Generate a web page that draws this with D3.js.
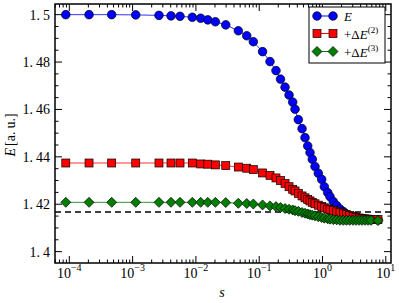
<!DOCTYPE html>
<html><head><meta charset="utf-8">
<script src="https://cdn.jsdelivr.net/npm/d3@7"></script>
<style>body{margin:0;background:#fff}svg{display:block}text{font-family:"Liberation Serif","DejaVu Serif",serif;fill:#000}</style>
</head><body><svg id="c" width="399" height="303"></svg>
<script>
const sValues = [8.8e-5, 2.05e-4, 4.67e-4, 1.12e-3, 2.61e-3, 4.04e-3, 5.61e-3, 8.77e-3, 0.0119, 0.0154, 0.0203, 0.0296, 0.0468, 0.0635, 0.0807, 0.113, 0.148, 0.184, 0.217, 0.256, 0.296, 0.338, 0.368, 0.415, 0.475, 0.529, 0.584, 0.635, 0.690, 0.761, 0.858, 0.971, 1.068, 1.208, 1.314, 1.481, 1.676, 1.890, 2.131, 2.394, 2.690, 3.032, 3.382, 3.772, 4.207, 4.692, 5.233, 5.837, 7.53];
const seriesE = [1.5000,1.5000,1.5000,1.4999,1.4997,1.4995,1.4993,1.4989,1.4985,1.4978,1.4970,1.4957,1.4932,1.4911,1.4886,1.4844,1.4802,1.4764,1.4728,1.4694,1.4661,1.4631,1.4601,1.4557,1.4519,1.4481,1.4446,1.4418,1.4390,1.4359,1.4331,1.4305,1.4274,1.4249,1.4232,1.4211,1.4194,1.4180,1.4169,1.4158,1.4150,1.4145,1.4141,1.4139,1.4137,1.4136,1.4136,1.4135,1.4134];
const seriesE2 = [1.4374,1.4374,1.4374,1.4374,1.4374,1.4374,1.4374,1.4374,1.4370,1.4369,1.4366,1.4363,1.4357,1.4352,1.4346,1.4332,1.4322,1.4311,1.4300,1.4288,1.4274,1.4263,1.4256,1.4246,1.4235,1.4227,1.4220,1.4214,1.4208,1.4202,1.4196,1.4190,1.4185,1.4180,1.4177,1.4173,1.4168,1.4165,1.4160,1.4156,1.4152,1.4149,1.4145,1.4142,1.4140,1.4138,1.4137,1.4136,1.4135];
const seriesE3 = [1.4208,1.4208,1.4208,1.4208,1.4208,1.4208,1.4208,1.4208,1.4208,1.4208,1.4208,1.4207,1.4204,1.4203,1.4201,1.4197,1.4193,1.4190,1.4186,1.4182,1.4179,1.4176,1.4173,1.4170,1.4165,1.4162,1.4159,1.4156,1.4154,1.4151,1.4147,1.4144,1.4141,1.4139,1.4137,1.4135,1.4134,1.4132,1.4132,1.4132,1.4132,1.4132,1.4132,1.4132,1.4132,1.4132,1.4132,1.4132,1.4131];
const referenceLine = 1.4167;
const yTickValues = [1.40, 1.42, 1.44, 1.46, 1.48, 1.50];
const yTickLabels = ["1.4", "1.42", "1.44", "1.46", "1.48", "1.5"];
const xTickExponents = [-4, -3, -2, -1, 0, 1];
const legendLabels = [["E", ""], ["+Δ", "E", "(2)"], ["+Δ", "E", "(3)"]];

const svg = d3.select("#c");
const L = 55, R = 391, T = 4, B = 263;
const x = d3.scaleLog().domain([Math.pow(10, -4.226), Math.pow(10, 1.082)]).range([L, R]);
const y = d3.scaleLinear().domain([1.3952, 1.5045]).range([B, T]);

const series = [
  {vals: seriesE, color: "#0000ff", shape: "circle"},
  {vals: seriesE2, color: "#ff0000", shape: "square"},
  {vals: seriesE3, color: "#007f00", shape: "diamond"}
];
function marker(g, shape) {
  if (shape === "circle") return g.append("circle").attr("r", 4.3);
  if (shape === "square") return g.append("rect").attr("x", -4).attr("y", -4).attr("width", 8).attr("height", 8);
  return g.append("path").attr("d", "M0,-5L5,0L0,5L-5,0Z");
}
const line = d3.line().x(d => x(d[0])).y(d => y(d[1]));

svg.append("line").attr("x1", L).attr("x2", R).attr("y1", y(referenceLine)).attr("y2", y(referenceLine))
  .attr("stroke", "#000").attr("stroke-width", 1.5).attr("stroke-dasharray", "6,4");

series.forEach(s => {
  const pts = sValues.map((v, i) => [v, s.vals[i]]);
  svg.append("path").attr("d", line(pts)).attr("fill", "none").attr("stroke", s.color).attr("stroke-width", 1).attr("stroke-opacity", 0.8);
  pts.forEach(p => {
    const g = svg.append("g").attr("transform", `translate(${x(p[0])},${y(p[1])})`);
    marker(g, s.shape).attr("fill", s.color).attr("stroke", "#000").attr("stroke-width", 0.7);
  });
});

svg.append("rect").attr("x", L).attr("y", T).attr("width", R - L).attr("height", B - T)
  .attr("fill", "none").attr("stroke", "#000").attr("stroke-width", 1.5);

const yMinor = d3.range(1.395, 1.5046, 0.005).filter(v => v >= 1.3952 && v <= 1.5045);
yMinor.forEach(v => {
  const isMajor = Math.abs(Math.round(v * 50) - v * 50) < 1e-6;
  const len = isMajor ? 7 : 3.5;
  svg.append("line").attr("x1", L).attr("x2", L + len).attr("y1", y(v)).attr("y2", y(v)).attr("stroke", "#000").attr("stroke-width", 1);
  svg.append("line").attr("x1", R).attr("x2", R - len).attr("y1", y(v)).attr("y2", y(v)).attr("stroke", "#000").attr("stroke-width", 1);
});
yTickValues.forEach((v, i) => {
  const parts = yTickLabels[i].split(".");
  const t = svg.append("text").attr("x", L - 5).attr("y", y(v) + 5).attr("text-anchor", "end").attr("font-size", 14);
  t.append("tspan").text(parts[0] + ".");
  t.append("tspan").attr("dx", 3).text(parts[1]);
});

xTickExponents.concat([-5]).forEach(e => {
  for (let m = 1; m <= 9; m++) {
    const v = m * Math.pow(10, e);
    if (v < x.domain()[0] || v > x.domain()[1]) continue;
    const len = m === 1 ? 7 : 3.5;
    svg.append("line").attr("x1", x(v)).attr("x2", x(v)).attr("y1", B).attr("y2", B - len).attr("stroke", "#000").attr("stroke-width", 1);
    svg.append("line").attr("x1", x(v)).attr("x2", x(v)).attr("y1", T).attr("y2", T + len).attr("stroke", "#000").attr("stroke-width", 1);
  }
});
xTickExponents.forEach(e => {
  const t = svg.append("text").attr("x", x(Math.pow(10, e))).attr("y", 278).attr("text-anchor", "middle").attr("font-size", 14);
  t.append("tspan").text("10");
  t.append("tspan").attr("dy", -7).attr("font-size", 10).text(e < 0 ? "\u2212" + Math.abs(e) : String(e));
});

svg.append("text").attr("x", 222).attr("y", 297).attr("text-anchor", "middle").attr("font-size", 14).attr("font-style", "italic").text("s");
const yl = svg.append("text").attr("transform", "translate(15,135) rotate(-90)").attr("text-anchor", "middle").attr("font-size", 14);
yl.append("tspan").attr("font-style", "italic").text("E");
yl.append("tspan").attr("dx", 2).text("[a.");
yl.append("tspan").attr("dx", 3).text("u.]");

const lg = svg.append("g");
lg.append("rect").attr("x", 309).attr("y", 7).attr("width", 76).attr("height", 56).attr("fill", "#fff").attr("stroke", "#000").attr("stroke-width", 1);
const rowsY = [16, 33.5, 51.5];
series.forEach((s, i) => {
  const yy = rowsY[i];
  lg.append("line").attr("x1", 317).attr("x2", 333).attr("y1", yy).attr("y2", yy).attr("stroke", s.color).attr("stroke-width", 1);
  [317, 333].forEach(xx => {
    const g = lg.append("g").attr("transform", `translate(${xx},${yy})`);
    marker(g, s.shape).attr("fill", s.color).attr("stroke", "#000").attr("stroke-width", 0.7);
  });
  const lab = legendLabels[i];
  const t = lg.append("text").attr("x", 344).attr("y", yy + 5).attr("font-size", 13);
  if (lab.length === 2) {
    t.append("tspan").attr("font-style", "italic").text(lab[0]);
  } else {
    t.append("tspan").text(lab[0]);
    t.append("tspan").attr("font-style", "italic").text(lab[1]);
    t.append("tspan").attr("dy", -6).attr("font-size", 9).text(lab[2]);
  }
});
</script></body></html>
